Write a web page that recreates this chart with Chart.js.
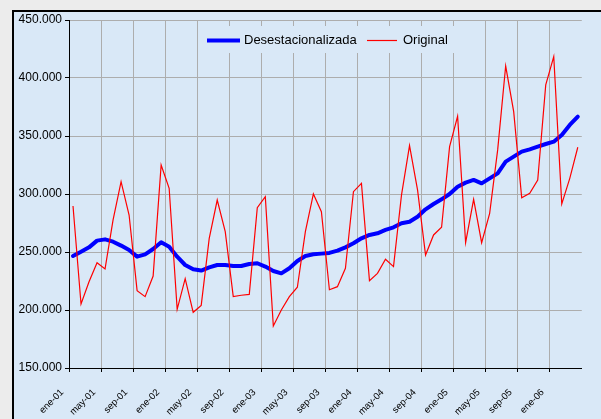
<!DOCTYPE html>
<html>
<head>
<meta charset="utf-8">
<script src="https://cdn.jsdelivr.net/npm/chart.js@4.4.1/dist/chart.umd.min.js"></script>
<style>
  body { margin: 0; background: #ececec; }
  #wrap { width: 601px; height: 419px; }
</style>
</head>
<body>
<div id="wrap"><canvas id="chart" width="601" height="419"></canvas></div>
<script>
// months ene-01 .. abr-06
const categories = [
  "ene-01","feb-01","mar-01","abr-01","may-01","jun-01","jul-01","ago-01","sep-01","oct-01","nov-01","dic-01",
  "ene-02","feb-02","mar-02","abr-02","may-02","jun-02","jul-02","ago-02","sep-02","oct-02","nov-02","dic-02",
  "ene-03","feb-03","mar-03","abr-03","may-03","jun-03","jul-03","ago-03","sep-03","oct-03","nov-03","dic-03",
  "ene-04","feb-04","mar-04","abr-04","may-04","jun-04","jul-04","ago-04","sep-04","oct-04","nov-04","dic-04",
  "ene-05","feb-05","mar-05","abr-05","may-05","jun-05","jul-05","ago-05","sep-05","oct-05","nov-05","dic-05",
  "ene-06","feb-06","mar-06","abr-06"
];

const desestacionalizada = [
  246600, 250300, 254000, 259800, 260900, 258900, 255500, 251700, 246000, 248000, 252600, 258400,
  254600, 246000, 238800, 235100, 234000, 236800, 238800, 238800, 237900, 237900, 239700, 240300,
  237400, 233600, 231600, 236000, 242300, 246600, 248000, 248600, 249200, 251200, 254000, 257500,
  261800, 264700, 266100, 269000, 271300, 274800, 276100, 280400, 286800, 291400, 295400, 300000,
  306300, 309800, 312100, 309200, 313500, 317800, 327900, 332200, 336500, 338500, 340800, 343100,
  345100, 350900, 359500, 366700
];

const original = [
  289700, 205200, 224400, 240800, 235400, 277600, 310600, 281900, 216700, 211500, 229300, 325000,
  304900, 200600, 227000, 198000, 204000, 261800, 294800, 267500, 211500, 212700, 213500, 288200,
  297700, 186200, 200000, 211500, 219600, 267500, 300000, 284800, 217500, 220100, 235900, 302000,
  309200, 225300, 231600, 243700, 237400, 299200, 341700, 303500, 247400, 264700, 271300, 340800,
  367000, 258000, 295400, 258000, 283300, 338000, 410300, 371000, 296800, 300600, 312100, 394000,
  418400, 291400, 313500, 340300
];

const yTicks = [150000, 200000, 250000, 300000, 350000, 400000, 450000];

const bgBlue = "#d9e8f7";
const gridGray = "#adadad";

function fmt(v) {
  return String(v).replace(/\B(?=(\d{3})+(?!\d))/g, ".");
}

Chart.defaults.font.family = "'Liberation Sans', Arial, sans-serif";
Chart.defaults.color = "#000";

const frame = {
  id: "frame",
  beforeDraw(chart) {
    const ctx = chart.ctx;
    ctx.save();
    ctx.fillStyle = "#ececec";
    ctx.fillRect(0, 0, chart.width, chart.height);
    ctx.fillStyle = bgBlue;
    ctx.fillRect(12, 10, chart.width, chart.height);
    ctx.strokeStyle = "#000";
    ctx.lineWidth = 2;
    ctx.strokeRect(13, 11, chart.width + 20, chart.height + 20);
    ctx.restore();
  },
  afterDraw(chart) {
    // legend box sits inside the plot, over the gridlines
    const ctx = chart.ctx;
    ctx.save();
    ctx.fillStyle = bgBlue;
    ctx.fillRect(201, 26, 253, 27);
    ctx.lineWidth = 4;
    ctx.strokeStyle = "#0000ff";
    ctx.beginPath(); ctx.moveTo(207, 40.5); ctx.lineTo(240, 40.5); ctx.stroke();
    ctx.lineWidth = 1.2;
    ctx.strokeStyle = "#ff0000";
    ctx.beginPath(); ctx.moveTo(367, 40.5); ctx.lineTo(397, 40.5); ctx.stroke();
    ctx.fillStyle = "#000";
    ctx.font = "13px 'Liberation Sans', Arial, sans-serif";
    ctx.textBaseline = "middle";
    ctx.fillText("Desestacionalizada", 244, 40);
    ctx.fillText("Original", 403, 40);
    ctx.restore();
  }
};

new Chart(document.getElementById("chart"), {
  type: "line",
  data: {
    labels: categories,
    datasets: [
      {
        label: "Original",
        data: original,
        borderColor: "#ff0000",
        borderWidth: 1.2,
        pointRadius: 0,
        tension: 0,
        order: 0
      },
      {
        label: "Desestacionalizada",
        data: desestacionalizada,
        borderColor: "#0000ff",
        borderWidth: 4,
        pointRadius: 0,
        tension: 0,
        borderCapStyle: "round",
        borderJoinStyle: "round",
        order: 1
      }
    ]
  },
  options: {
    responsive: false,
    animation: false,
    layout: { padding: { top: 20, right: 19, left: 0, bottom: 0 } },
    plugins: { legend: { display: false }, tooltip: { enabled: false } },
    scales: {
      x: {
        offset: true,
        afterFit: (s) => { s.height = 51; },
        grid: {
          offset: true,
          color: (c) => (c.index % 4 === 0 ? gridGray : "transparent"),
          tickColor: (c) => (c.index % 4 === 0 ? "#000" : "transparent"),
          tickLength: 4
        },
        border: { color: "#000", width: 1 },
        ticks: {
          autoSkip: false,
          maxRotation: 45,
          minRotation: 45,
          labelOffset: -11,
          padding: 15,
          font: { size: 9.5, family: "'Liberation Sans Narrow', 'Liberation Sans', Arial, sans-serif" },
          callback: function (v, i) { return i % 4 === 0 ? categories[i] : ""; }
        }
      },
      y: {
        min: 150000,
        max: 450000,
        afterFit: (s) => { s.width = 69; },
        afterBuildTicks: (s) => { s.ticks = yTicks.map((v) => ({ value: v })); },
        grid: { color: gridGray, tickColor: "#000", tickLength: 4 },
        border: { color: "#000", width: 1 },
        ticks: {
          padding: 3,
          font: { size: 12 },
          callback: (v) => fmt(v)
        }
      }
    }
  },
  plugins: [frame]
});
</script>
</body>
</html>
